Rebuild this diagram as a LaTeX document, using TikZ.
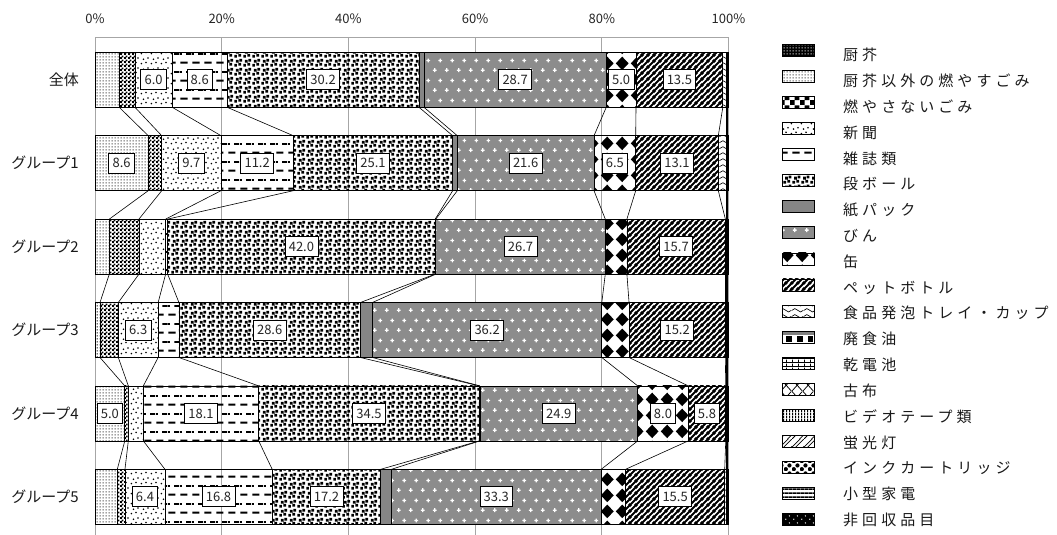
\documentclass[tikz,border=0pt]{standalone}
\usepackage{fontspec}
\setmainfont{Noto Sans CJK JP}
\newfontfamily\legfont[LetterSpace=27]{Noto Sans CJK JP}
\usetikzlibrary{patterns.meta}

\newcommand\PatR[4]{\pgfpathrectangle{\pgfpoint{#1pt}{#2pt}}{\pgfpoint{#3pt}{#4pt}}}
\newcommand\PatC[3]{\pgfpathcircle{\pgfpoint{#1pt}{#2pt}}{#3pt}}
\newcommand\PatL[4]{\pgfpathmoveto{\pgfpoint{#1pt}{#2pt}}\pgfpathlineto{\pgfpoint{#3pt}{#4pt}}}

\pgfdeclarepattern{name=pLd,type=uncolored,bottom left={\pgfpointorigin},top right={\pgfpoint{3pt}{3pt}},tile size={\pgfpoint{3pt}{3pt}},
  code={\PatR{0.85}{0.85}{1.3}{1.3}\pgfusepath{fill}}}
\pgfdeclarepattern{name=pChk,type=uncolored,bottom left={\pgfpointorigin},top right={\pgfpoint{4pt}{4pt}},tile size={\pgfpoint{4pt}{4pt}},
  code={\PatR{0}{0}{2.2}{2.2}\PatR{2}{2}{2}{2}\pgfusepath{fill}}}
\pgfdeclarepattern{name=pBigChk,type=uncolored,bottom left={\pgfpointorigin},top right={\pgfpoint{10pt}{10pt}},tile size={\pgfpoint{10pt}{10pt}},
  code={\PatR{0}{0}{5}{5}\PatR{5}{5}{5}{5}\pgfusepath{fill}}}
\pgfdeclarepattern{name=pNews,type=uncolored,bottom left={\pgfpointorigin},top right={\pgfpoint{10pt}{10pt}},tile size={\pgfpoint{10pt}{10pt}},
  code={\PatC{1.5}{1.5}{0.95}\PatC{6.5}{2.8}{0.95}\PatC{3.8}{6.2}{0.95}\PatC{8.6}{7.6}{0.95}\pgfusepath{fill}}}
\pgfdeclarepattern{name=pMag,type=uncolored,bottom left={\pgfpointorigin},top right={\pgfpoint{12pt}{18pt}},tile size={\pgfpoint{12pt}{18pt}},
  code={\PatR{0.5}{3.5}{7.5}{2}\PatR{6.5}{12.5}{5.5}{2}\PatR{0}{12.5}{2}{2}\pgfusepath{fill}}}
\pgfdeclarepattern{name=pDan,type=uncolored,bottom left={\pgfpointorigin},top right={\pgfpoint{9pt}{9pt}},tile size={\pgfpoint{9pt}{9pt}},
  code={\PatR{0.3}{0.3}{3}{3}\PatR{4.8}{1.5}{3}{3}\PatR{2.2}{4.8}{3}{3}\PatR{6.0}{6.0}{3}{3}\pgfusepath{fill}}}
\pgfdeclarepattern{name=pPlus,type=uncolored,bottom left={\pgfpointorigin},top right={\pgfpoint{12pt}{20pt}},tile size={\pgfpoint{12pt}{20pt}},
  code={\PatR{1}{4.35}{4}{1.3}\PatR{2.35}{3}{1.3}{4}\PatR{7}{14.35}{4}{1.3}\PatR{8.35}{13}{1.3}{4}\pgfusepath{fill}}}
\pgfdeclarepattern{name=pDiam,type=uncolored,bottom left={\pgfpointorigin},top right={\pgfpoint{15pt}{16pt}},tile size={\pgfpoint{15pt}{16pt}},
  code={\pgfpathmoveto{\pgfpoint{7.5pt}{0.9pt}}\pgfpathlineto{\pgfpoint{14.2pt}{8pt}}\pgfpathlineto{\pgfpoint{7.5pt}{15.1pt}}\pgfpathlineto{\pgfpoint{0.8pt}{8pt}}\pgfpathclose\pgfusepath{fill}}}
\pgfdeclarepattern{name=pPet,type=uncolored,bottom left={\pgfpointorigin},top right={\pgfpoint{6pt}{6pt}},tile size={\pgfpoint{6pt}{6pt}},
  code={\pgfsetlinewidth{2.2pt}\PatL{-1}{-1}{7}{7}\PatL{-4}{2}{4}{10}\PatL{2}{-4}{10}{4}\pgfusepath{stroke}}}
\pgfdeclarepattern{name=pWave,type=uncolored,bottom left={\pgfpointorigin},top right={\pgfpoint{12pt}{6pt}},tile size={\pgfpoint{12pt}{6pt}},
  code={\pgfsetlinewidth{0.7pt}\pgfpathmoveto{\pgfpoint{0pt}{3pt}}\pgfpathcurveto{\pgfpoint{2pt}{5.5pt}}{\pgfpoint{4pt}{5.5pt}}{\pgfpoint{6pt}{3pt}}\pgfpathcurveto{\pgfpoint{8pt}{0.5pt}}{\pgfpoint{10pt}{0.5pt}}{\pgfpoint{12pt}{3pt}}\pgfusepath{stroke}}}
\pgfdeclarepattern{name=pGrid,type=uncolored,bottom left={\pgfpointorigin},top right={\pgfpoint{6.4pt}{4pt}},tile size={\pgfpoint{6.4pt}{4pt}},
  code={\PatR{0}{0}{1}{4}\PatR{0}{0}{6.4}{1}\pgfusepath{fill}}}
\pgfdeclarepattern{name=pCloth,type=uncolored,bottom left={\pgfpointorigin},top right={\pgfpoint{11pt}{12pt}},tile size={\pgfpoint{11pt}{12pt}},
  code={\pgfsetlinewidth{0.8pt}\PatL{0}{0}{11}{12}\PatL{0}{12}{11}{0}\pgfusepath{stroke}}}
\pgfdeclarepattern{name=pVl,type=uncolored,bottom left={\pgfpointorigin},top right={\pgfpoint{3pt}{3pt}},tile size={\pgfpoint{3pt}{3pt}},
  code={\PatR{0}{0}{1.5}{3}\pgfusepath{fill}}}
\pgfdeclarepattern{name=pKei,type=uncolored,bottom left={\pgfpointorigin},top right={\pgfpoint{12pt}{12pt}},tile size={\pgfpoint{12pt}{12pt}},
  code={\pgfsetlinewidth{0.8pt}\PatL{-1}{-1}{13}{13}\PatL{-1}{3}{9}{13}\PatL{7}{-1}{13}{5}\pgfusepath{stroke}}}
\pgfdeclarepattern{name=pInk,type=uncolored,bottom left={\pgfpointorigin},top right={\pgfpoint{8pt}{8pt}},tile size={\pgfpoint{8pt}{8pt}},
  code={\PatC{2}{2}{2.3}\PatC{6}{6}{2.3}\pgfusepath{fill}}}
\pgfdeclarepattern{name=pHl,type=uncolored,bottom left={\pgfpointorigin},top right={\pgfpoint{4.2pt}{4.2pt}},tile size={\pgfpoint{4.2pt}{4.2pt}},
  code={\PatR{0}{0}{4.2}{2}\pgfusepath{fill}}}
\pgfdeclarepattern{name=pSp,type=uncolored,bottom left={\pgfpointorigin},top right={\pgfpoint{8pt}{7pt}},tile size={\pgfpoint{8pt}{7pt}},
  code={\PatC{2}{2}{0.8}\PatC{6}{5.5}{0.8}\pgfusepath{fill}}}

\newcommand\drawrow[3]{%
  \pgfmathsetmacro\yt{52.3+83.4*#1}%
  \pgfmathsetmacro\yb{\yt+55}%
  \pgfmathsetmacro\yc{\yt+27.5}%
  \node[rowlab,anchor=east] (RL#1) at (79,\yc) {#2};
  \foreach \a/\b/\st/\lab [count=\k] in {#3} {
    \pgfmathsetmacro\xa{95+6.335*\a}
    \pgfmathsetmacro\xb{95+6.335*\b}
    \path[\st] (\xa,\yt) rectangle (\xb,\yb);
    \draw[seg] (\xa,\yt) rectangle (\xb,\yb);
    \coordinate (T#1-\k) at (\xb,\yt);
    \coordinate (B#1-\k) at (\xb,\yb);
    \ifx\lab\empty\else
      \node[lab] (L#1-\k) at ({(\xa+\xb)/2},\yc) {\lab};
    \fi
  }
}

\begin{document}
\begin{tikzpicture}[x=1pt,y=-1pt,
  seg/.style={draw=black,line width=0.7pt},
  serl/.style={draw=black,line width=0.6pt},
  gridc/.style={draw=black!35,line width=0.8pt},
  lab/.style={draw=black,fill=white,line width=0.7pt,inner xsep=3.8pt,inner ysep=0pt,minimum height=20pt,font=\fontsize{13}{13}\selectfont,text=black!85},
  rowlab/.style={inner sep=0pt,font=\fontsize{15}{15}\selectfont,text=black!90},
  axl/.style={inner sep=0pt,font=\fontsize{13}{13}\selectfont,text=black!85},
  legt/.style={inner sep=0pt,font=\legfont\fontsize{15}{15}\selectfont,text=black!90},
  ldS/.style={fill=white,postaction={pattern=pLd,pattern color=black!85}},
  chkS/.style={pattern=pChk},
  bigchkS/.style={pattern=pBigChk},
  newsS/.style={pattern=pNews},
  magS/.style={pattern=pMag},
  danS/.style={pattern=pDan},
  kamiS/.style={fill=black!48},
  binS/.style={fill=black!45,postaction={pattern=pPlus,pattern color=white}},
  canS/.style={pattern=pDiam},
  petS/.style={pattern=pPet},
  trayS/.style={pattern=pWave},
  blkS/.style={fill=black},
  kitS/.style={fill=black,postaction={pattern=pLd,pattern color=white}},
  oilS/.style={fill=white},
  gridS/.style={pattern=pGrid},
  clothS/.style={pattern=pCloth},
  vlS/.style={pattern=pVl},
  keiS/.style={pattern=pKei},
  inkS/.style={pattern=pInk},
  hlS/.style={pattern=pHl},
  hikaS/.style={fill=black,postaction={pattern=pSp,pattern color=white}}
]
\useasboundingbox (0,0) rectangle (1057,535);
\fill[white] (0,0) rectangle (1057,535);

% grid and axis labels
\draw[gridc] (95,37.3) -- (728.5,37.3);
\foreach \p in {0,20,40,60,80,100} {
  \pgfmathsetmacro\xx{95+6.335*\p}
  \draw[gridc] (\xx,37.3) -- (\xx,535);
  \node[axl] (AX\p) at (\xx,18.5) {\p\%};
}

% bars
\drawrow{0}{全体}{0/3.83/ldS/, 3.83/6.31/chkS/, 6.31/12.19/newsS/6.0, 12.19/20.87/magS/8.6, 20.87/51.15/danS/30.2, 51.15/51.94/kamiS/, 51.94/80.7/binS/28.7, 80.7/85.4/canS/5.0, 85.4/99.1/petS/13.5, 99.1/99.7/trayS/, 99.7/100/blkS/}
\drawrow{1}{グループ1}{0/8.4/ldS/8.6, 8.4/10.53/chkS/, 10.53/19.9/newsS/9.7, 19.9/31.3/magS/11.2, 31.3/56.46/danS/25.1, 56.46/57.19/kamiS/, 57.19/78.77/binS/21.6, 78.77/85.35/canS/6.5, 85.35/98.39/petS/13.1, 98.39/99.7/trayS/, 99.7/100/blkS/}
\drawrow{2}{グループ2}{0/2.26/ldS/, 2.26/6.94/chkS/, 6.94/11.15/newsS/, 11.15/11.47/magS/, 11.47/53.7/danS/42.0, 53.7/53.8/kamiS/, 53.8/80.55/binS/26.7, 80.55/83.96/canS/, 83.96/99.5/petS/15.7, 99.5/99.7/trayS/, 99.7/100/blkS/}
\drawrow{3}{グループ3}{0/0.79/ldS/, 0.79/3.68/chkS/, 3.68/9.97/newsS/6.3, 9.97/13.25/magS/, 13.25/41.9/danS/28.6, 41.9/43.8/kamiS/, 43.8/80.0/binS/36.2, 80.0/84.3/canS/, 84.3/99.5/petS/15.2, 99.5/99.7/trayS/, 99.7/100/blkS/}
\drawrow{4}{グループ4}{0/4.7/ldS/5.0, 4.7/5.26/chkS/, 5.26/7.63/newsS/, 7.63/25.84/magS/18.1, 25.84/60.66/danS/34.5, 60.66/60.76/kamiS/, 60.76/85.67/binS/24.9, 85.67/93.65/canS/8.0, 93.65/99.56/petS/5.8, 99.56/99.7/trayS/, 99.7/100/blkS/}
\drawrow{5}{グループ5}{0/3.52/ldS/, 3.52/4.73/chkS/, 4.73/11.04/newsS/6.4, 11.04/27.97/magS/16.8, 27.97/45.1/danS/17.2, 45.1/46.8/kamiS/, 46.8/79.9/binS/33.3, 79.9/83.75/canS/, 83.75/99.4/petS/15.5, 99.4/99.7/trayS/, 99.7/100/blkS/}

% series lines
\foreach \r [evaluate=\r as \rn using int(\r+1)] in {0,...,4} {
  \foreach \k in {1,...,10} {
    \draw[serl] (B\r-\k) -- (T\rn-\k);
  }
  \fill[black] ([xshift=-1pt]B\r-10) rectangle ([xshift=1pt]T\rn-10);
}

% legend
\foreach \st/\txt [count=\i] in {kitS/厨芥, ldS/厨芥以外の燃やすごみ, bigchkS/燃やさないごみ, newsS/新聞, magS/雑誌類, danS/段ボール, kamiS/紙パック, binS/びん, canS/缶, petS/ペットボトル, trayS/食品発泡トレイ・カップ, oilS/廃食油, gridS/乾電池, clothS/古布, vlS/ビデオテープ類, keiS/蛍光灯, inkS/インクカートリッジ, hlS/小型家電, hikaS/非回収品目} {
  \pgfmathsetmacro\cy{50.4+26.06*(\i-1)}
  \pgfmathsetmacro\ty{55+25.83*(\i-1)}
  \path[\st] (782.3,{\cy-6}) rectangle (814.3,{\cy+6});
  \coordinate (SW\i) at (782.3,{\cy-6});
  \ifnum\i=12
    \fill[black!50] (782.3,{\cy-6}) rectangle (814.3,{\cy-2.5});
    \fill[black] (786,{\cy-1.5}) rectangle (792,{\cy+4.5});
    \fill[black] (797,{\cy-1.5}) rectangle (803,{\cy+4.5});
    \fill[black] (808,{\cy-1.5}) rectangle (813,{\cy+4.5});
  \fi
  \draw[seg] (782.3,{\cy-6}) rectangle (814.3,{\cy+6});
  \node[legt,anchor=west] (LG\i) at (843,\ty) {\txt};
}
\end{tikzpicture}
\end{document}
